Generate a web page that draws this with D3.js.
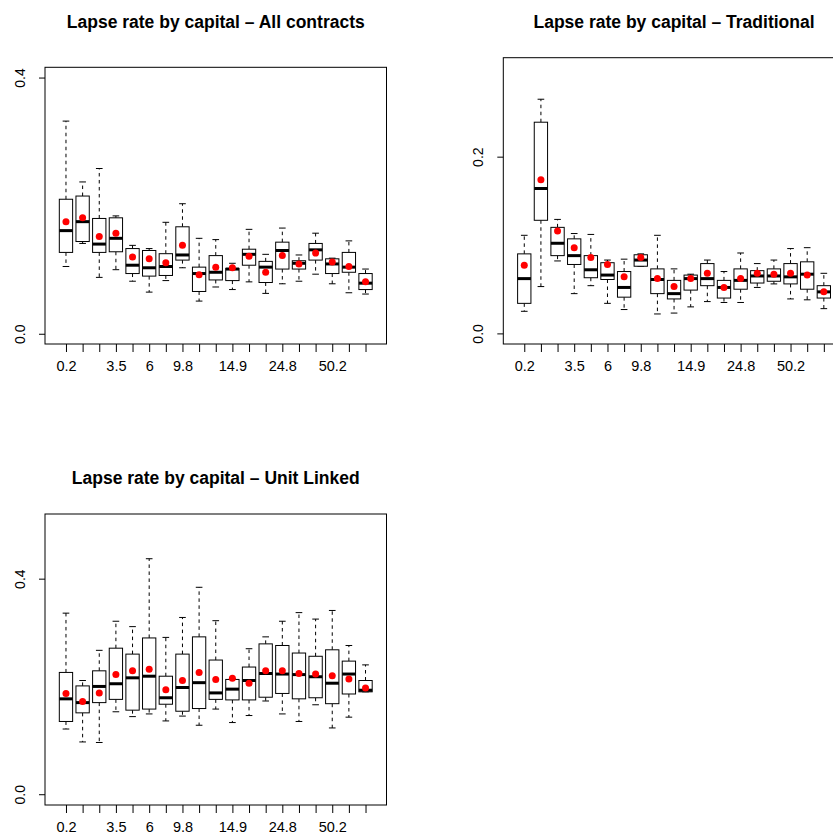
<!DOCTYPE html>
<html>
<head>
<meta charset="utf-8">
<script src="https://cdn.jsdelivr.net/npm/d3@7"></script>
<style>
  body { margin: 0; background: #fff; }
  text { font-family: "Liberation Sans", Arial, Helvetica, sans-serif; fill: #000; }
</style>
</head>
<body>
<svg id="chart" width="833" height="838"></svg>
<script>
(function(){
  'use strict';

  // data: capital classes (x tick labels, only the ones that fit get drawn)
  var capitalLabels = ['0.2', '1.4', '2.4', '3.5', '4.8', '6', '7.7', '9.8', '11.3', '12.9',
                       '14.9', '17.3', '20.4', '24.8', '30.5', '38.6', '50.2', '70.6', '137.4'];

  // All contracts
  var allHigh = [0.332, 0.237, 0.258, 0.184, 0.138, 0.133, 0.174, 0.203, 0.149, 0.147, 0.110, 0.163, 0.124, 0.165, 0.123, 0.157, 0.118, 0.145, 0.101];
  var allQ3   = [0.210, 0.215, 0.180, 0.181, 0.133, 0.130, 0.125, 0.167, 0.104, 0.122, 0.102, 0.132, 0.113, 0.143, 0.114, 0.141, 0.117, 0.127, 0.094];
  var allMed  = [0.161, 0.175, 0.140, 0.149, 0.107, 0.103, 0.105, 0.123, 0.094, 0.096, 0.101, 0.124, 0.104, 0.130, 0.110, 0.131, 0.109, 0.104, 0.079];
  var allQ1   = [0.127, 0.144, 0.127, 0.128, 0.094, 0.090, 0.091, 0.115, 0.066, 0.084, 0.083, 0.107, 0.080, 0.101, 0.101, 0.115, 0.094, 0.096, 0.069];
  var allLow  = [0.105, 0.141, 0.088, 0.100, 0.082, 0.065, 0.083, 0.103, 0.051, 0.073, 0.069, 0.081, 0.063, 0.078, 0.082, 0.093, 0.078, 0.064, 0.062];
  var allMean = [0.175, 0.181, 0.152, 0.157, 0.120, 0.117, 0.111, 0.138, 0.092, 0.104, 0.103, 0.121, 0.096, 0.122, 0.109, 0.126, 0.112, 0.105, 0.081];

  // Traditional
  var tradHigh = [0.111, 0.265, 0.129, 0.113, 0.112, 0.083, 0.084, 0.090, 0.111, 0.073, 0.067, 0.083, 0.070, 0.091, 0.079, 0.083, 0.096, 0.097, 0.068];
  var tradQ3   = [0.090, 0.239, 0.120, 0.107, 0.088, 0.080, 0.070, 0.089, 0.073, 0.060, 0.066, 0.079, 0.060, 0.073, 0.071, 0.073, 0.079, 0.081, 0.054];
  var tradMed  = [0.062, 0.164, 0.102, 0.088, 0.072, 0.066, 0.052, 0.083, 0.061, 0.045, 0.062, 0.062, 0.052, 0.060, 0.065, 0.065, 0.064, 0.067, 0.047];
  var tradQ1   = [0.034, 0.128, 0.088, 0.078, 0.063, 0.061, 0.041, 0.076, 0.045, 0.039, 0.049, 0.054, 0.040, 0.050, 0.057, 0.059, 0.056, 0.050, 0.040];
  var tradLow  = [0.025, 0.053, 0.082, 0.045, 0.054, 0.034, 0.027, 0.076, 0.022, 0.023, 0.030, 0.036, 0.035, 0.035, 0.052, 0.056, 0.039, 0.038, 0.028];
  var tradMean = [0.077, 0.174, 0.116, 0.097, 0.086, 0.078, 0.064, 0.086, 0.062, 0.053, 0.062, 0.068, 0.052, 0.062, 0.068, 0.067, 0.068, 0.066, 0.047];

  // Unit Linked
  var ulHigh = [0.336, 0.211, 0.267, 0.321, 0.311, 0.437, 0.291, 0.328, 0.384, 0.322, 0.214, 0.270, 0.292, 0.321, 0.337, 0.325, 0.341, 0.276, 0.240];
  var ulQ3   = [0.226, 0.201, 0.229, 0.271, 0.260, 0.290, 0.219, 0.260, 0.292, 0.249, 0.213, 0.236, 0.279, 0.276, 0.262, 0.256, 0.268, 0.247, 0.211];
  var ulMed  = [0.177, 0.170, 0.200, 0.205, 0.216, 0.219, 0.179, 0.198, 0.207, 0.188, 0.195, 0.211, 0.224, 0.223, 0.222, 0.218, 0.206, 0.223, 0.193];
  var ulQ1   = [0.135, 0.151, 0.170, 0.176, 0.156, 0.158, 0.167, 0.154, 0.159, 0.176, 0.175, 0.175, 0.180, 0.187, 0.177, 0.179, 0.168, 0.186, 0.190];
  var ulLow  = [0.121, 0.097, 0.096, 0.153, 0.144, 0.149, 0.136, 0.145, 0.128, 0.158, 0.133, 0.146, 0.173, 0.149, 0.135, 0.166, 0.123, 0.143, 0.190];
  var ulMean = [0.187, 0.172, 0.188, 0.222, 0.229, 0.232, 0.194, 0.211, 0.226, 0.213, 0.215, 0.206, 0.229, 0.229, 0.224, 0.223, 0.220, 0.214, 0.197];

  var svg = d3.select('#chart');

  var panels = [
    {title: 'Lapse rate by capital \u2013 All contracts', yMax: 0.4, yTicks: [0, 0.4],
     high: allHigh, q3: allQ3, med: allMed, q1: allQ1, low: allLow, mean: allMean,
     x0: 45, x1: 386.5, y0: 67.3, y1: 344, titleY: 28},
    {title: 'Lapse rate by capital \u2013 Traditional', yMax: 0.3, yTicks: [0, 0.2],
     high: tradHigh, q3: tradQ3, med: tradMed, q1: tradQ1, low: tradLow, mean: tradMean,
     x0: 503.3, x1: 844.8, y0: 57.7, y1: 344, titleY: 28},
    {title: 'Lapse rate by capital \u2013 Unit Linked', yMax: 0.5, yTicks: [0, 0.4],
     high: ulHigh, q3: ulQ3, med: ulMed, q1: ulQ1, low: ulLow, mean: ulMean,
     x0: 45, x1: 386.5, y0: 514, y1: 805, titleY: 484}
  ];

  panels.forEach(function(p) { drawPanel(p); });

  function drawPanel(p) {
    var n = capitalLabels.length,
        idx = d3.range(n),
        g = svg.append('g');

    // R style: 4% extension of the ranges
    var x = d3.scaleLinear()
      .domain([0.5 - 0.04 * n, n + 0.5 + 0.04 * n])
      .range([p.x0, p.x1]);

    var ext = 0.04 * p.yMax;
    var y = d3.scaleLinear()
      .domain([-ext, p.yMax + ext])
      .range([p.y1, p.y0]);

    var half = x(1.4) - x(1),       // boxwex 0.8
        staple = x(1.2) - x(1);     // staplewex 0.5

    var boxes = g.selectAll('.bx')
      .data(idx)
      .enter()
      .append('g')
      .attr('class', 'bx');

    // whiskers
    boxes.append('line')
      .attr('x1', function(i) { return x(i + 1); })
      .attr('x2', function(i) { return x(i + 1); })
      .attr('y1', function(i) { return y(p.q3[i]); })
      .attr('y2', function(i) { return y(p.high[i]); })
      .style('stroke', '#000')
      .style('stroke-dasharray', '3.5,3.5');

    boxes.append('line')
      .attr('x1', function(i) { return x(i + 1); })
      .attr('x2', function(i) { return x(i + 1); })
      .attr('y1', function(i) { return y(p.q1[i]); })
      .attr('y2', function(i) { return y(p.low[i]); })
      .style('stroke', '#000')
      .style('stroke-dasharray', '3.5,3.5');

    // staples
    ['high', 'low'].forEach(function(k) {
      boxes.append('line')
        .attr('x1', function(i) { return x(i + 1) - staple; })
        .attr('x2', function(i) { return x(i + 1) + staple; })
        .attr('y1', function(i) { return y(p[k][i]); })
        .attr('y2', function(i) { return y(p[k][i]); })
        .style('stroke', '#000');
    });

    // box
    boxes.append('rect')
      .attr('x', function(i) { return x(i + 1) - half; })
      .attr('width', 2 * half)
      .attr('y', function(i) { return y(p.q3[i]); })
      .attr('height', function(i) { return y(p.q1[i]) - y(p.q3[i]); })
      .style('fill', '#fff')
      .style('stroke', '#000');

    // median
    boxes.append('line')
      .attr('x1', function(i) { return x(i + 1) - half; })
      .attr('x2', function(i) { return x(i + 1) + half; })
      .attr('y1', function(i) { return y(p.med[i]); })
      .attr('y2', function(i) { return y(p.med[i]); })
      .style('stroke', '#000')
      .style('stroke-width', 3);

    // means
    g.selectAll('.mean')
      .data(idx)
      .enter()
      .append('circle')
      .attr('class', 'mean')
      .attr('cx', function(i) { return x(i + 1); })
      .attr('cy', function(i) { return y(p.mean[i]); })
      .attr('r', 3.5)
      .style('fill', '#ff0000');

    // frame
    g.append('rect')
      .attr('x', p.x0).attr('y', p.y0)
      .attr('width', p.x1 - p.x0).attr('height', p.y1 - p.y0)
      .style('fill', 'none')
      .style('stroke', '#000');

    // y axis
    var yAxis = d3.axisLeft(y)
      .tickValues(p.yTicks)
      .tickSize(6)
      .tickFormat(d3.format('.1f'));

    var ya = g.append('g')
      .attr('transform', 'translate(' + p.x0 + ',0)')
      .call(yAxis);
    ya.select('.domain').remove();
    ya.selectAll('text')
      .attr('x', null).attr('dy', null)
      .attr('text-anchor', 'middle')
      .attr('transform', 'translate(-20,0) rotate(-90)')
      .attr('font-size', null)
      .style('font-size', '14px');

    // x axis
    var xAxis = d3.axisBottom(x)
      .tickValues(idx.map(function(i) { return i + 1; }))
      .tickSize(8)
      .tickFormat(function(d) { return capitalLabels[d - 1]; });

    var xa = g.append('g')
      .attr('transform', 'translate(0,' + p.y1 + ')')
      .call(xAxis);
    xa.select('.domain').remove();
    xa.attr('font-size', null);
    xa.selectAll('text')
      .attr('y', 27).attr('dy', null)
      .style('font-size', '14.5px');

    // drop labels that would collide, like R does
    var lastRight = -Infinity, minGap = 15;
    xa.selectAll('.tick').each(function(d) {
      var t = d3.select(this).select('text'),
          w = t.node().getComputedTextLength(),
          cx = x(d);
      if (cx - w / 2 < lastRight + minGap) {
        t.remove();
      } else {
        lastRight = cx + w / 2;
      }
    });

    // title
    g.append('text')
      .attr('x', (p.x0 + p.x1) / 2)
      .attr('y', p.titleY)
      .attr('text-anchor', 'middle')
      .style('font-size', '17.5px')
      .style('font-weight', 'bold')
      .text(p.title);
  }

}());
</script>
</body>
</html>
